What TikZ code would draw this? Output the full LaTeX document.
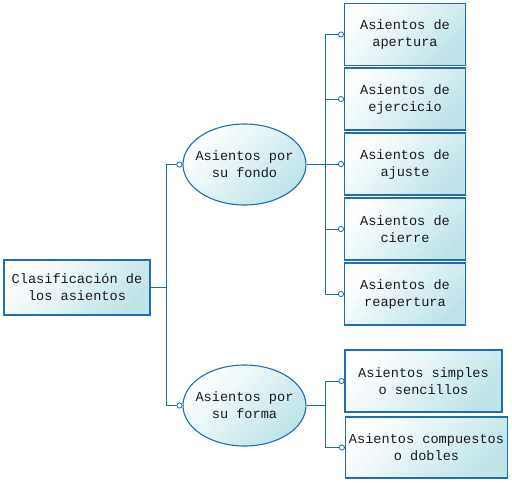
\documentclass[tikz,border=0pt]{standalone}
\usepackage{fontspec}
\setmonofont{Liberation Mono}
\usepackage{tikz}
\usetikzlibrary{arrows.meta,shapes.geometric}
\definecolor{mapline}{RGB}{30,110,180}
\definecolor{mapfill}{RGB}{190,228,232}
\definecolor{maptext}{RGB}{25,25,35}

\begin{document}
\begin{tikzpicture}[x=1pt,y=-1pt,
    topic/.style={draw=mapline,line width=1.1pt,top color=white,bottom color=mapfill,
        shading angle=45,text=maptext,align=center,inner sep=0pt,
        font=\ttfamily\fontsize{13.6}{17}\selectfont},
    rootbox/.style={topic,rectangle,minimum width=146,minimum height=55},
    oval/.style={topic,ellipse,inner xsep=-8pt,inner ysep=0pt,minimum width=123,minimum height=81},
    leaf/.style={topic,rectangle,minimum height=62},
    link/.style={draw=mapline,line width=1pt},
    tip/.style={link,-{Circle[open,fill=white,length=6pt,width=6pt,line width=0.8pt]}}]
            \useasboundingbox (0,0) rectangle (512,483);
            \node[rootbox] (root) at (77,287.5) {Clasificación de\\los asientos};
            \node[oval] (fondo) at (244.5,164.5) {Asientos por\\su fondo};
            \node[oval] (forma) at (244.5,405.5) {Asientos por\\su forma};
            \node[leaf,minimum width=121] (apertura) at (405,34.5) {Asientos de\\apertura};
            \node[leaf,minimum width=121] (ejercicio) at (405,99) {Asientos de\\ejercicio};
            \node[leaf,minimum width=121] (ajuste) at (405,164) {Asientos de\\ajuste};
            \node[leaf,minimum width=121] (cierre) at (405,229) {Asientos de\\cierre};
            \node[leaf,minimum width=121] (reapertura) at (405,294) {Asientos de\\reapertura};
            \node[leaf,minimum width=157] (simples) at (423.5,381) {Asientos simples\\o sencillos};
            \node[leaf,minimum width=162,minimum height=61] (dobles) at (426.5,447.5) {Asientos compuestos\\o dobles};
            % trunk and branch points
            \coordinate (trunk) at (166,287.5);
            \coordinate (fork1) at (325,164.5);
            \coordinate (fork2) at (325,405.5);
            \draw[link] (root.east) -- (trunk);
            \draw[tip] (trunk) |- (fondo.west);
            \draw[tip] (trunk) |- (forma.west);
            \draw[link] (fondo.east) -- (fork1);
            \draw[link] (forma.east) -- (fork2);
            \foreach \n in {apertura,ejercicio,ajuste,cierre,reapertura}
                \draw[tip] (fork1) |- (\n.west);
            \foreach \n in {simples,dobles}
                \draw[tip] (fork2) |- (\n.west);
        \end{tikzpicture}
\end{document}
